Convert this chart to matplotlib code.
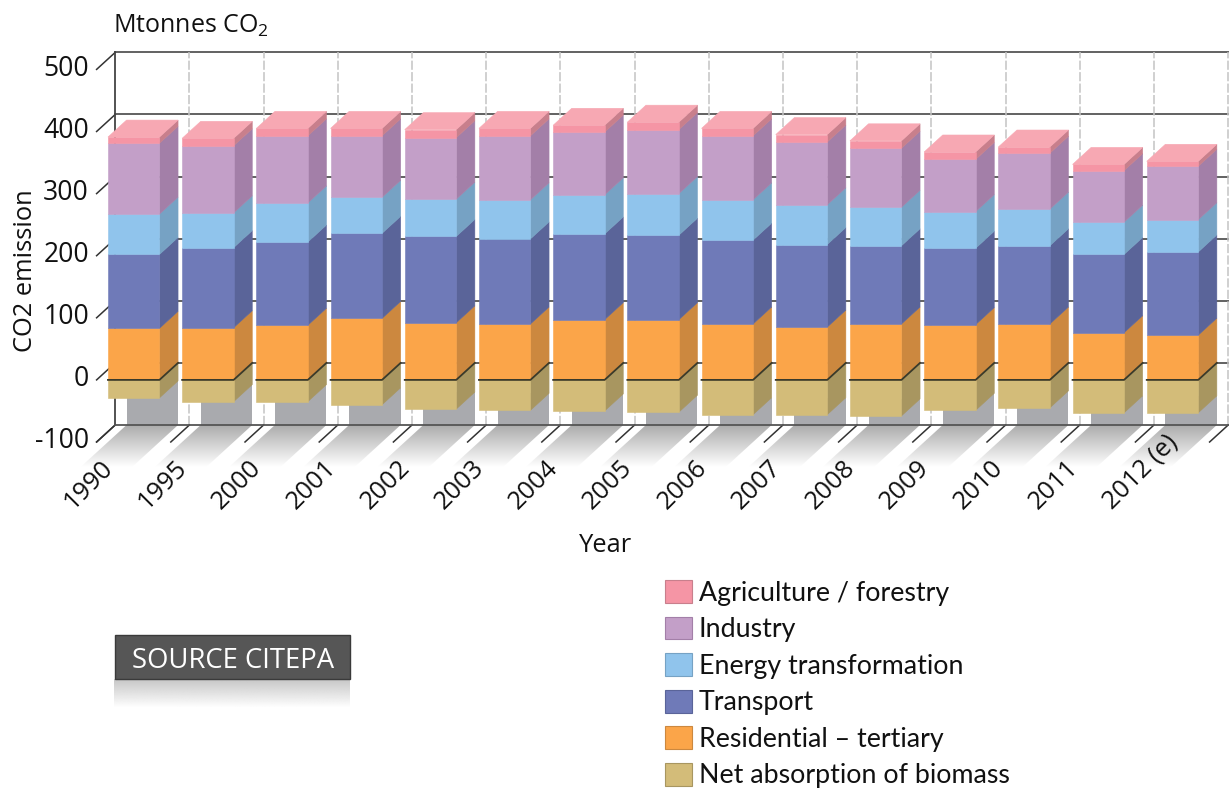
import numpy as np
import matplotlib
matplotlib.use('Agg')
import matplotlib.pyplot as plt
from matplotlib.patches import Polygon, Patch, Rectangle
from matplotlib.transforms import ScaledTranslation

W, H = 1229, 792

years = ['1990', '1995', '2000', '2001', '2002', '2003', '2004', '2005',
         '2006', '2007', '2008', '2009', '2010', '2011', '2012 (e)']
biomass = [-29, -35, -35, -40, -47, -49, -50, -52, -56, -56, -58, -49, -45, -53, -53]
residential = [83, 84, 88, 99, 92, 90, 97, 97, 90, 85, 90, 89, 90, 76, 72]
transport = [119, 129, 134, 137, 139, 137, 138, 136, 135, 133, 126, 123, 126, 126, 134]
energy = [65, 56, 63, 58, 60, 63, 63, 67, 65, 64, 62, 59, 59, 52, 52]
industry = [114, 108, 108, 99, 99, 103, 101, 103, 103, 101, 95, 84, 90, 83, 86]
agriculture = [10, 12, 12, 12, 13, 12, 11, 12, 12, 12, 12, 12, 10, 10, 8]
yticks = [-100, 0, 100, 200, 300, 400, 500]

#label, front colour, side colour, from bottom of the positive stack to the top
stack = [('Residential – tertiary', residential, '#fba549', '#cc883f'),
         ('Transport', transport, '#6f7ab8', '#5a6499'),
         ('Energy transformation', energy, '#90c4ec', '#76a2c4'),
         ('Industry', industry, '#c39fc8', '#a37fa8'),
         ('Agriculture / forestry', agriculture, '#f595a5', '#c87f8c')]
biomass_col, biomass_side = '#d3bc79', '#a89660'
top_col = '#f7a8b3'

bar_w = 51.5 / 74.2
#depth of the fake 3d box, in category and Mt units
DX = 18.6 / 74.2
DY = 17 / 0.621
FLOOR = -100
LEFT = 96.6
XMAX = -0.5 + (W - LEFT) / 74.2

plt.rcParams['font.family'] = ['Open Sans', 'DejaVu Sans']
plt.rcParams['mathtext.default'] = 'regular'
plt.rcParams['axes.unicode_minus'] = False

fig = plt.figure(figsize=(W / 100, H / 100), dpi=100)
ax = fig.add_axes([LEFT / W, (H - 442) / H, (W - LEFT) / W, 372.6 / H])
ax.set_xlim(-0.5, XMAX)
ax.set_ylim(-100, 500)
ax.set_axisbelow(False)
for s in ax.spines.values():
    s.set_visible(False)

#back wall
for v in yticks:
    ax.plot([-0.5 + DX, XMAX], [v + DY, v + DY], color='#555555', lw=1.3, zorder=1 if v > FLOOR else 5,
            clip_on=False)
    ax.plot([-0.5, -0.5 + DX], [v, v + DY], color='#333333', lw=1.1, zorder=1, clip_on=False)
ax.plot([-0.5 + DX, -0.5 + DX], [FLOOR + DY, 500 + DY], color='#444444', lw=1.3, zorder=1, clip_on=False)
for i in range(1, len(years) + 1):
    ax.plot([i - 0.5 + DX, i - 0.5 + DX], [FLOOR + DY, 500 + DY], color='#c4c4c4', lw=1.1,
            ls=(0, (6, 1.5)), zorder=1, clip_on=False)
    ax.plot([i - 0.5, i - 0.5 + DX], [FLOOR, FLOOR + DY], color='#333333', lw=1.1, zorder=3, clip_on=False)
ax.plot([-0.5, -0.5 + DX], [FLOOR, FLOOR + DY], color='#333333', lw=1.1, zorder=3, clip_on=False)

#floor shadows, fading towards the viewer
fade = np.linspace(0, 1, 64).reshape(-1, 1)
grad = np.ones((64, 1, 4))
grad[..., :3] = 0.66
grad[..., 3] = (1 - fade) * 0.98
drop = 68
for i in range(len(years)):
    x0 = i - bar_w / 2 + DX
    x1 = i + bar_w / 2 + DX
    y_top = FLOOR + DY
    y_bot = y_top - drop
    shift = drop / DY * DX
    im = ax.imshow(grad, extent=[x0 - shift, x1, y_bot, y_top], aspect='auto', origin='upper', zorder=2)
    clip = Polygon([(x0, y_top), (x1, y_top), (x1 - shift, y_bot), (x0 - shift, y_bot)],
                   transform=ax.transData)
    im.set_clip_path(clip)
    im.set_clip_box(fig.bbox)
ax.set_xlim(-0.5, XMAX)
ax.set_ylim(-100, 500)


def box_sides(i, lo, hi, col, z=6):
    r = i + bar_w / 2
    ax.add_patch(Polygon([(r, lo), (r + DX, lo + DY), (r + DX, hi + DY), (r, hi)], closed=True,
                         fc=col, ec=col, lw=0.4, zorder=z, clip_on=False))


x = np.arange(len(years))
for i in x:
    l = i - bar_w / 2
    #shadow on the wall under the column
    ax.add_patch(Rectangle((l + DX, FLOOR + DY), bar_w, biomass[i] - FLOOR, fc='#a9aaae', ec='none', zorder=4,
                           clip_on=False))

bottom = np.zeros(len(years))
handles = {}
for name, vals, col, side in stack:
    ax.bar(x, vals, bar_w, bottom=bottom, color=col, edgecolor=col, linewidth=0.4, zorder=7, clip_on=False)
    for i in x:
        box_sides(i, bottom[i], bottom[i] + vals[i], side)
    bottom = bottom + np.array(vals)
    handles[name] = Patch(fc=col, ec=side, lw=0.8)

ax.bar(x, biomass, bar_w, color=biomass_col, edgecolor=biomass_col, linewidth=0.4, zorder=7)
for i in x:
    box_sides(i, biomass[i], 0, biomass_side)
    l, r = i - bar_w / 2, i + bar_w / 2
    ax.add_patch(Polygon([(l, bottom[i]), (r, bottom[i]), (r + DX, bottom[i] + DY), (l + DX, bottom[i] + DY)],
                         fc=top_col, ec=top_col, lw=0.4, zorder=8, clip_on=False))
    #axis plane at zero runs round the front and the side
    ax.plot([l, r, r + DX], [0, 0, DY], color='#3a3a2a', lw=1.3, zorder=9)
handles['Net absorption of biomass'] = Patch(fc=biomass_col, ec=biomass_side, lw=0.8)

#ticks and labels
tick_size = 26.5 * 0.72
ax.set_yticks(yticks)
ax.tick_params(axis='y', length=0, pad=5.5, labelsize=tick_size, colors='#111111')
up = ScaledTranslation(0, 4 / 100, fig.dpi_scale_trans)
for lab in ax.get_yticklabels():
    lab.set_transform(lab.get_transform() + up)
ax.set_xticks(x)
ax.set_xticklabels(years, rotation=45, ha='left', rotation_mode='anchor', va='baseline', fontsize=25.5 * 0.72,
                   color='#111111')
ax.tick_params(axis='x', length=0, pad=0)
shift_lab = ScaledTranslation(-61 / 100, -68 / 100, fig.dpi_scale_trans)
for lab in ax.get_xticklabels():
    lab.set_transform(lab.get_transform() + shift_lab)

fig.text(26 / W, 1 - 271 / H, 'CO2 emission', rotation=90, ha='center', va='center', fontsize=25.5 * 0.72,
         color='#111111')
fig.text(606 / W, 1 - 545 / H, 'Year', ha='center', va='center', fontsize=25.5 * 0.72, color='#111111')
fig.text(113 / W, 1 - 33 / H, 'Mtonnes CO$_2$', ha='left', va='baseline', fontsize=25 * 0.72, color='#111111')

#legend, top entry first
order = ['Agriculture / forestry', 'Industry', 'Energy transformation', 'Transport',
         'Residential – tertiary', 'Net absorption of biomass']
fig.legend([handles[n] for n in order], order, loc='upper left', bbox_to_anchor=(660 / W, 1 - 575 / H),
           frameon=False, prop={'family': 'Lato', 'size': 26.8 * 0.72}, handlelength=1.0, handleheight=0.92,
           handletextpad=0.24, labelspacing=0.41, borderpad=0.2, borderaxespad=0, labelcolor='#111111')

#source badge with its reflection
ov = fig.add_axes([0, 0, 1, 1], zorder=10)
ov.set_xlim(0, W)
ov.set_ylim(H, 0)
ov.axis('off')
ov.add_patch(Rectangle((114.5, 634.5), 235.5, 44, fc='#565656', ec='#3a3a3a', lw=1))
refl = np.ones((32, 1, 4))
refl[..., :3] = 0.6
refl[..., 3] = np.linspace(0.55, 0, 32).reshape(-1, 1)
ov.imshow(refl, extent=[114, 350, 708, 679], aspect='auto', origin='upper')
ov.set_xlim(0, W)
ov.set_ylim(H, 0)
ov.text(233, 661, 'SOURCE CITEPA', color='white', ha='center', va='center', fontsize=27.5 * 0.72)

fig.savefig('out.png', dpi=100)
